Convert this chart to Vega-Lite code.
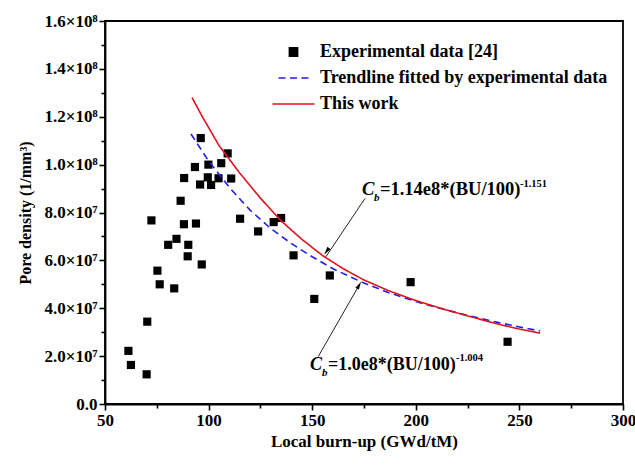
{
  "$schema": "https://vega.github.io/schema/vega-lite/v6.json",
  "width": 518,
  "height": 383,
  "autosize": {"type": "none"},
  "padding": {"left": 105, "top": 21, "right": 12, "bottom": 64},
  "background": "white",
  "resolve": {"axis": {"x": "independent", "y": "independent"}},
  "config": {
    "font": "Liberation Serif",
    "view": {"stroke": "black", "strokeWidth": 1.8},
    "axis": {
      "grid": false,
      "domainColor": "black",
      "domainWidth": 1.8,
      "tickColor": "black",
      "tickWidth": 1.6,
      "labelFont": "Liberation Serif",
      "labelFontSize": 17,
      "labelFontWeight": "bold",
      "labelColor": "black",
      "labelPadding": 2,
      "labelOverlap": false,
      "labelFlush": false,
      "titleFont": "Liberation Serif",
      "titleFontSize": 17,
      "titleFontWeight": "bold",
      "titleColor": "black"
    },
    "legend": {
      "orient": "none",
      "legendX": 175.5,
      "legendY": 18,
      "padding": 0,
      "symbolSize": 576,
      "symbolStrokeWidth": 1.6,
      "labelFont": "Liberation Serif",
      "labelFontSize": 18,
      "labelFontWeight": "bold",
      "labelColor": "black",
      "labelOffset": 13.5,
      "rowPadding": 4,
      "labelLimit": 400
    }
  },
  "datasets": {
    "exp": [
      {"bu": 61.3, "density": 22200000, "series": "Experimental data [24]"},
      {"bu": 62.5, "density": 16300000, "series": "Experimental data [24]"},
      {"bu": 70.1, "density": 12400000, "series": "Experimental data [24]"},
      {"bu": 70.4, "density": 34400000, "series": "Experimental data [24]"},
      {"bu": 72.4, "density": 76700000, "series": "Experimental data [24]"},
      {"bu": 75.3, "density": 55700000, "series": "Experimental data [24]"},
      {"bu": 76.4, "density": 50000000, "series": "Experimental data [24]"},
      {"bu": 80.5, "density": 66500000, "series": "Experimental data [24]"},
      {"bu": 83.4, "density": 48300000, "series": "Experimental data [24]"},
      {"bu": 84.5, "density": 69000000, "series": "Experimental data [24]"},
      {"bu": 86.5, "density": 84900000, "series": "Experimental data [24]"},
      {"bu": 88.1, "density": 75100000, "series": "Experimental data [24]"},
      {"bu": 88.2, "density": 94400000, "series": "Experimental data [24]"},
      {"bu": 89.9, "density": 61700000, "series": "Experimental data [24]"},
      {"bu": 90.2, "density": 66500000, "series": "Experimental data [24]"},
      {"bu": 93.4, "density": 99000000, "series": "Experimental data [24]"},
      {"bu": 93.9, "density": 75400000, "series": "Experimental data [24]"},
      {"bu": 95.9, "density": 91700000, "series": "Experimental data [24]"},
      {"bu": 96.2, "density": 111100000, "series": "Experimental data [24]"},
      {"bu": 96.7, "density": 58300000, "series": "Experimental data [24]"},
      {"bu": 99.6, "density": 94700000, "series": "Experimental data [24]"},
      {"bu": 99.9, "density": 100000000, "series": "Experimental data [24]"},
      {"bu": 101.2, "density": 91500000, "series": "Experimental data [24]"},
      {"bu": 104.8, "density": 94300000, "series": "Experimental data [24]"},
      {"bu": 106.1, "density": 100600000, "series": "Experimental data [24]"},
      {"bu": 109.2, "density": 104700000, "series": "Experimental data [24]"},
      {"bu": 110.9, "density": 94200000, "series": "Experimental data [24]"},
      {"bu": 115.2, "density": 77400000, "series": "Experimental data [24]"},
      {"bu": 123.9, "density": 72100000, "series": "Experimental data [24]"},
      {"bu": 131.4, "density": 76000000, "series": "Experimental data [24]"},
      {"bu": 135.0, "density": 77700000, "series": "Experimental data [24]"},
      {"bu": 141.0, "density": 62100000, "series": "Experimental data [24]"},
      {"bu": 151.0, "density": 43900000, "series": "Experimental data [24]"},
      {"bu": 158.5, "density": 53700000, "series": "Experimental data [24]"},
      {"bu": 197.5, "density": 50900000, "series": "Experimental data [24]"},
      {"bu": 244.3, "density": 26000000, "series": "Experimental data [24]"}
    ],
    "curves": [
      {"bu": 91.5, "density": 112800000, "series": "Trendline fitted by experimental data"},
      {"bu": 100, "density": 101500000, "series": "Trendline fitted by experimental data"},
      {"bu": 110, "density": 90500000, "series": "Trendline fitted by experimental data"},
      {"bu": 120, "density": 81000000, "series": "Trendline fitted by experimental data"},
      {"bu": 130, "density": 73300000, "series": "Trendline fitted by experimental data"},
      {"bu": 140, "density": 67000000, "series": "Trendline fitted by experimental data"},
      {"bu": 150, "density": 61500000, "series": "Trendline fitted by experimental data"},
      {"bu": 160, "density": 56500000, "series": "Trendline fitted by experimental data"},
      {"bu": 175, "density": 50500000, "series": "Trendline fitted by experimental data"},
      {"bu": 187, "density": 46500000, "series": "Trendline fitted by experimental data"},
      {"bu": 200, "density": 42800000, "series": "Trendline fitted by experimental data"},
      {"bu": 212, "density": 39900000, "series": "Trendline fitted by experimental data"},
      {"bu": 225, "density": 37000000, "series": "Trendline fitted by experimental data"},
      {"bu": 240, "density": 34000000, "series": "Trendline fitted by experimental data"},
      {"bu": 250, "density": 32200000, "series": "Trendline fitted by experimental data"},
      {"bu": 260, "density": 30500000, "series": "Trendline fitted by experimental data"},
      {"bu": 92, "density": 128000000, "series": "This work"},
      {"bu": 97, "density": 120000000, "series": "This work"},
      {"bu": 105, "density": 108000000, "series": "This work"},
      {"bu": 115, "density": 96500000, "series": "This work"},
      {"bu": 125, "density": 86000000, "series": "This work"},
      {"bu": 135, "density": 76500000, "series": "This work"},
      {"bu": 145, "density": 68800000, "series": "This work"},
      {"bu": 155, "density": 62000000, "series": "This work"},
      {"bu": 165, "density": 56500000, "series": "This work"},
      {"bu": 175, "density": 51800000, "series": "This work"},
      {"bu": 187, "density": 47300000, "series": "This work"},
      {"bu": 200, "density": 43200000, "series": "This work"},
      {"bu": 212, "density": 40000000, "series": "This work"},
      {"bu": 225, "density": 36800000, "series": "This work"},
      {"bu": 240, "density": 33300000, "series": "This work"},
      {"bu": 250, "density": 31300000, "series": "This work"},
      {"bu": 260, "density": 29600000, "series": "This work"}
    ]
  },
  "layer": [
    {
      "data": {"name": "exp"},
      "mark": {"type": "point", "filled": true, "opacity": 1, "size": 576},
      "encoding": {
        "x": {
          "field": "bu", "type": "quantitative",
          "scale": {"domain": [50, 300], "nice": false, "zero": false},
          "axis": {
            "orient": "bottom",
            "title": "Local burn-up (GWd/tM)",
            "values": [50, 100, 150, 200, 250, 300],
            "tickSize": 6,
            "titlePadding": 5
          }
        },
        "y": {
          "field": "density", "type": "quantitative",
          "scale": {"domain": [0, 160000000], "nice": false},
          "axis": {
            "orient": "left",
            "title": "Pore density (1/mm³)",
            "titleFontSize": 16,
            "values": [0, 20000000, 40000000, 60000000, 80000000, 100000000, 120000000, 140000000, 160000000],
            "labelExpr": "datum.value == 0 ? '0.0' : (datum.value >= 100000000 ? format(datum.value / 100000000, '.1f') + '×10⁸' : format(datum.value / 10000000, '.1f') + '×10⁷')",
            "tickSize": 6,
            "titlePadding": 10
          }
        },
        "color": {
          "field": "series", "type": "nominal",
          "scale": {"domain": ["Experimental data [24]", "Trendline fitted by experimental data", "This work"], "range": ["black", "#1e1ee6", "#e0141e"]},
          "legend": {"title": null}
        },
        "shape": {
          "field": "series", "type": "nominal",
          "scale": {"domain": ["Experimental data [24]", "Trendline fitted by experimental data", "This work"], "range": ["M-0.34,-0.34H0.34V0.34H-0.34Z", "M-1.25,0H1.25", "M-1.75,0H1.75"]},
          "legend": {"title": null}
        }
      }
    },
    {
      "data": {"name": "curves"},
      "mark": {"type": "line", "strokeWidth": 1.6},
      "encoding": {
        "x": {
          "field": "bu", "type": "quantitative",
          "axis": {"orient": "bottom", "values": [75, 125, 175, 225, 275], "labels": false, "title": null, "domain": false, "tickSize": 4}
        },
        "y": {
          "field": "density", "type": "quantitative",
          "axis": {"orient": "left", "values": [10000000, 30000000, 50000000, 70000000, 90000000, 110000000, 130000000, 150000000], "labels": false, "title": null, "domain": false, "tickSize": 4}
        },
        "color": {
          "field": "series", "type": "nominal",
          "scale": {"domain": ["Experimental data [24]", "Trendline fitted by experimental data", "This work"], "range": ["black", "#1e1ee6", "#e0141e"]},
          "legend": {"title": null}
        },
        "strokeDash": {
          "field": "series", "type": "nominal",
          "scale": {"domain": ["Experimental data [24]", "Trendline fitted by experimental data", "This work"], "range": [[1, 0], [7, 4.5], [1, 0]]},
          "legend": {"title": null}
        }
      }
    },
    {
      "data": {"values": [{}]},
      "mark": {"type": "rule", "color": "#222222", "strokeWidth": 1},
      "encoding": {
        "x": {"datum": 175.5, "type": "quantitative", "axis": null},
        "y": {"datum": 85900000, "type": "quantitative", "axis": null},
        "x2": {"datum": 156.6},
        "y2": {"datum": 61500000}
      }
    },
    {
      "data": {"values": [{}]},
      "mark": {"type": "rule", "color": "#222222", "strokeWidth": 1},
      "encoding": {
        "x": {"datum": 152.9, "type": "quantitative", "axis": null},
        "y": {"datum": 19800000, "type": "quantitative", "axis": null},
        "x2": {"datum": 172.7},
        "y2": {"datum": 49700000}
      }
    },
    {
      "data": {"values": [{}]},
      "mark": {"type": "point", "filled": true, "opacity": 1, "color": "black", "size": 64, "shape": "M0,0L0.5,2L-0.5,2Z", "angle": 216.7},
      "encoding": {
        "x": {"datum": 155.8, "type": "quantitative", "axis": null},
        "y": {"datum": 62500000, "type": "quantitative", "axis": null}
      }
    },
    {
      "data": {"values": [{}]},
      "mark": {"type": "point", "filled": true, "opacity": 1, "color": "black", "size": 64, "shape": "M0,0L0.5,2L-0.5,2Z", "angle": 29.8},
      "encoding": {
        "x": {"datum": 173.6, "type": "quantitative", "axis": null},
        "y": {"datum": 51100000, "type": "quantitative", "axis": null}
      }
    },
    {
      "data": {"values": [{}]},
      "mark": {"type": "text", "text": "C", "align": "left", "baseline": "alphabetic", "font": "Liberation Serif", "fontSize": 18.5, "fontWeight": "bold", "fontStyle": "italic", "color": "black"},
      "encoding": {
        "x": {"datum": 174.0, "type": "quantitative", "axis": null},
        "y": {"datum": 87300000, "type": "quantitative", "axis": null}
      }
    },
    {
      "data": {"values": [{}]},
      "mark": {"type": "text", "text": "b", "align": "left", "baseline": "alphabetic", "font": "Liberation Serif", "fontSize": 11, "fontWeight": "bold", "fontStyle": "italic", "color": "black", "dx": 12, "dy": 6},
      "encoding": {
        "x": {"datum": 174.0, "type": "quantitative", "axis": null},
        "y": {"datum": 87300000, "type": "quantitative", "axis": null}
      }
    },
    {
      "data": {"values": [{}]},
      "mark": {"type": "text", "text": "=1.14e8*(BU/100)", "align": "left", "baseline": "alphabetic", "font": "Liberation Serif", "fontSize": 18.5, "fontWeight": "bold", "color": "black", "dx": 18},
      "encoding": {
        "x": {"datum": 174.0, "type": "quantitative", "axis": null},
        "y": {"datum": 87300000, "type": "quantitative", "axis": null}
      }
    },
    {
      "data": {"values": [{}]},
      "mark": {"type": "text", "text": "-1.151", "align": "left", "baseline": "alphabetic", "font": "Liberation Serif", "fontSize": 10.5, "fontWeight": "bold", "color": "black", "dx": 158, "dy": -8},
      "encoding": {
        "x": {"datum": 174.0, "type": "quantitative", "axis": null},
        "y": {"datum": 87300000, "type": "quantitative", "axis": null}
      }
    },
    {
      "data": {"values": [{}]},
      "mark": {"type": "text", "text": "C", "align": "left", "baseline": "alphabetic", "font": "Liberation Serif", "fontSize": 18, "fontWeight": "bold", "fontStyle": "italic", "color": "black"},
      "encoding": {
        "x": {"datum": 148.9, "type": "quantitative", "axis": null},
        "y": {"datum": 14200000, "type": "quantitative", "axis": null}
      }
    },
    {
      "data": {"values": [{}]},
      "mark": {"type": "text", "text": "b", "align": "left", "baseline": "alphabetic", "font": "Liberation Serif", "fontSize": 11, "fontWeight": "bold", "fontStyle": "italic", "color": "black", "dx": 12, "dy": 6},
      "encoding": {
        "x": {"datum": 148.9, "type": "quantitative", "axis": null},
        "y": {"datum": 14200000, "type": "quantitative", "axis": null}
      }
    },
    {
      "data": {"values": [{}]},
      "mark": {"type": "text", "text": "=1.0e8*(BU/100)", "align": "left", "baseline": "alphabetic", "font": "Liberation Serif", "fontSize": 18, "fontWeight": "bold", "color": "black", "dx": 18},
      "encoding": {
        "x": {"datum": 148.9, "type": "quantitative", "axis": null},
        "y": {"datum": 14200000, "type": "quantitative", "axis": null}
      }
    },
    {
      "data": {"values": [{}]},
      "mark": {"type": "text", "text": "-1.004", "align": "left", "baseline": "alphabetic", "font": "Liberation Serif", "fontSize": 10.5, "fontWeight": "bold", "color": "black", "dx": 146, "dy": -9},
      "encoding": {
        "x": {"datum": 148.9, "type": "quantitative", "axis": null},
        "y": {"datum": 14200000, "type": "quantitative", "axis": null}
      }
    }
  ]
}
